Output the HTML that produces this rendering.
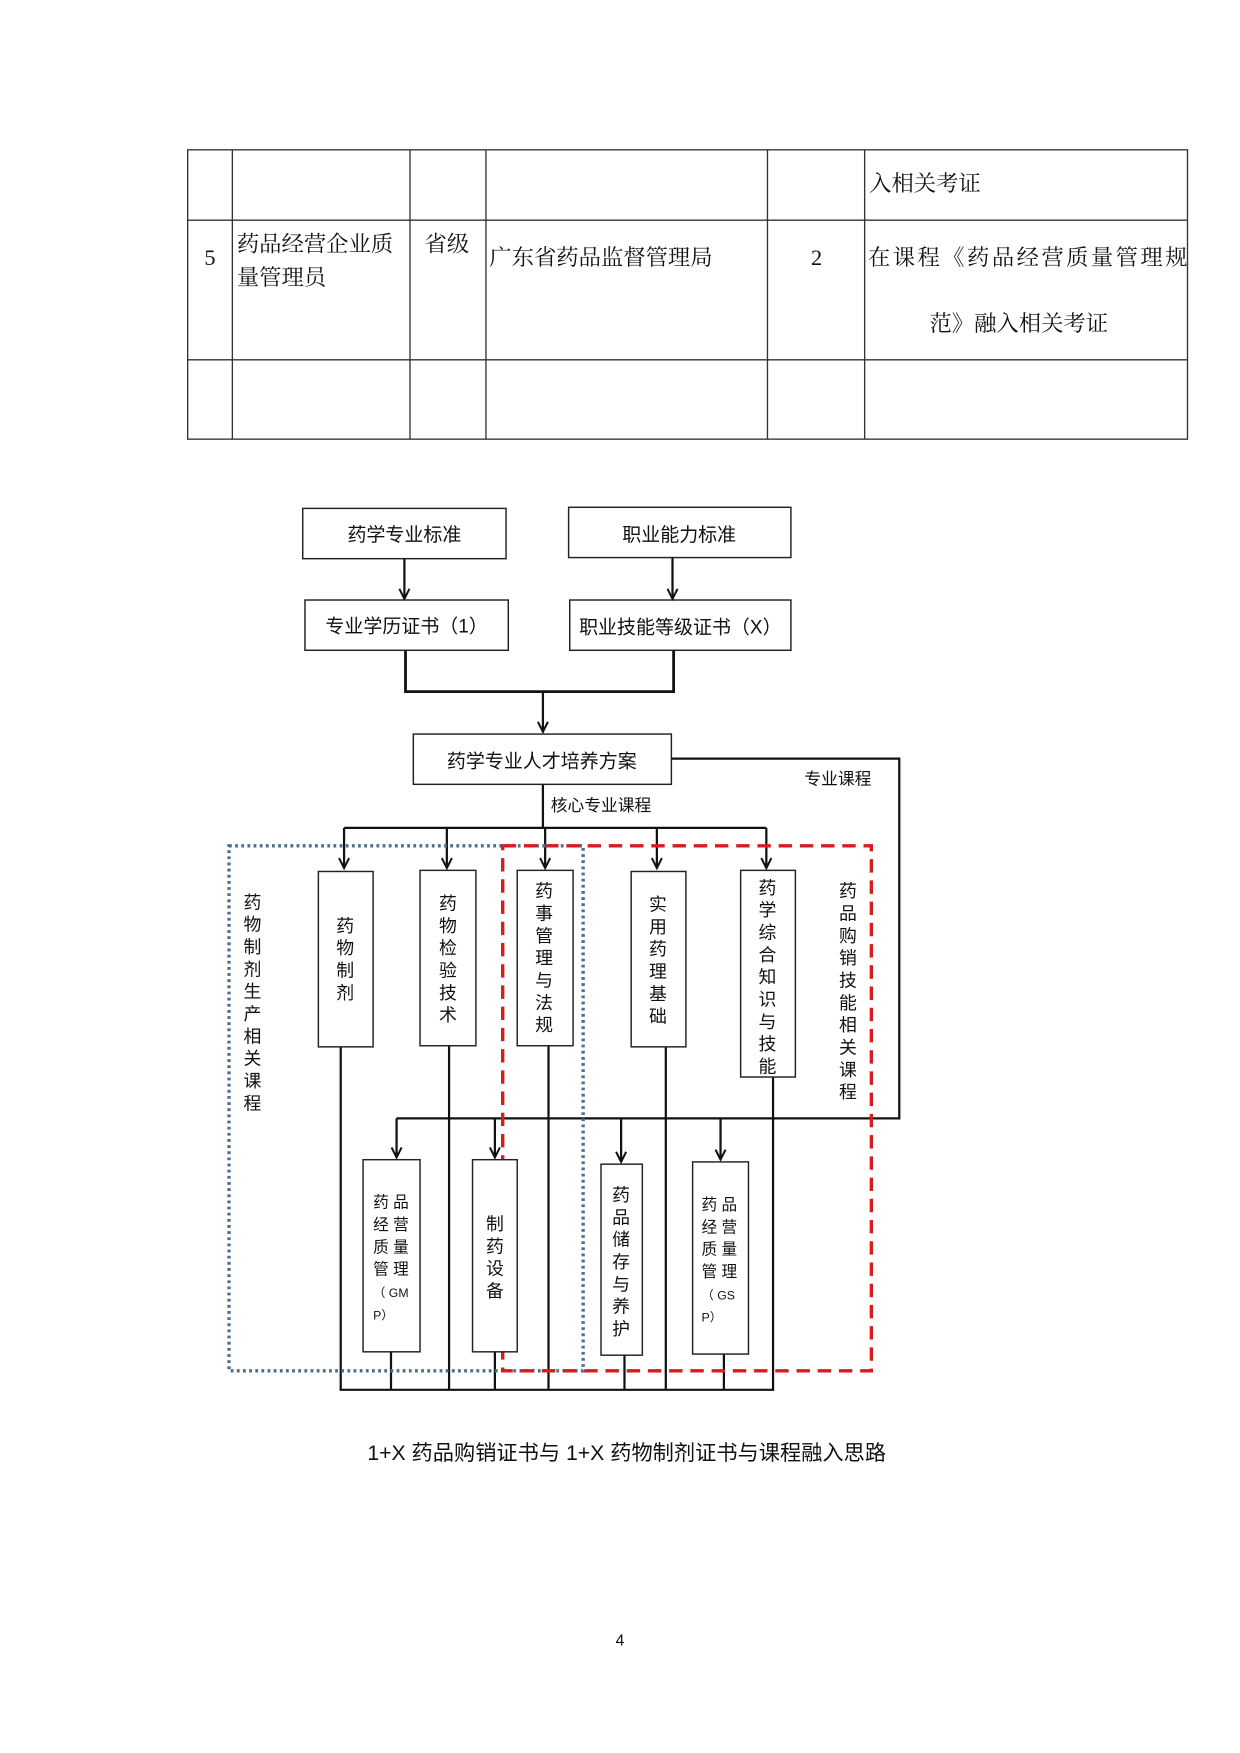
<!DOCTYPE html>
<html><head><meta charset="utf-8"><style>
html,body{margin:0;padding:0;background:#fff}
svg{display:block}
.s{font-family:"Liberation Serif","Noto Serif CJK SC",serif;font-size:20px;fill:#111}
.k{font-family:"Liberation Sans","Noto Sans CJK SC",sans-serif;fill:#111}
</style></head><body>
<svg width="1240" height="1753" viewBox="0 0 1110 1569" xmlns="http://www.w3.org/2000/svg">
<defs><marker id="a" markerWidth="12" markerHeight="12" refX="10" refY="6" orient="auto" markerUnits="userSpaceOnUse" viewBox="0 0 12 12"><path d="M1,1.5 L10,6 L1,10.5" fill="none" stroke="#111" stroke-width="1.8"/></marker></defs>
<!-- table -->
<g stroke="#333" stroke-width="1.2" fill="none">
<rect x="168" y="134" width="895" height="259"/>
<line x1="168" y1="197" x2="1063" y2="197"/><line x1="168" y1="322" x2="1063" y2="322"/>
<line x1="208" y1="134" x2="208" y2="393"/><line x1="367" y1="134" x2="367" y2="393"/>
<line x1="435" y1="134" x2="435" y2="393"/><line x1="687" y1="134" x2="687" y2="393"/>
<line x1="774" y1="134" x2="774" y2="393"/>
</g>
<g class="s">
<text x="778" y="171">入相关考证</text>
<text x="188" y="237" text-anchor="middle">5</text>
<text x="212" y="225">药品经营企业质</text>
<text x="212" y="255">量管理员</text>
<text x="380" y="225">省级</text>
<text x="438" y="237">广东省药品监督管理局</text>
<text x="731" y="237" text-anchor="middle">2</text>
<text x="777" y="237" textLength="286">在课程《药品经营质量管理规</text>
<text x="832" y="296">范》融入相关考证</text>
</g>
<!-- boxes top -->
<g stroke="#222" stroke-width="1.3" fill="none">
<rect x="271" y="455" width="182" height="45"/>
<rect x="509" y="454" width="199" height="45"/>
<rect x="273" y="537" width="182" height="45"/>
<rect x="510" y="537" width="198" height="45"/>
<rect x="370" y="657" width="231" height="45"/>
</g>
<g class="k" font-size="17" text-anchor="middle">
<text x="362" y="484">药学专业标准</text>
<text x="608" y="484">职业能力标准</text>
<text x="364" y="566">专业学历证书（1）</text>
<text x="609" y="567">职业技能等级证书（X）</text>
<text x="485" y="687">药学专业人才培养方案</text>
</g>
<g class="k" font-size="15">
<text x="720" y="702">专业课程</text>
<text x="493" y="726">核心专业课程</text>
</g>
<g stroke="#111" stroke-width="2" fill="none">
<line x1="362" y1="500" x2="362" y2="536" marker-end="url(#a)"/>
<line x1="602" y1="499" x2="602" y2="536" marker-end="url(#a)"/>
<polyline points="363,582 363,619 603,619 603,582" stroke-width="2.5"/>
<line x1="486" y1="619" x2="486" y2="655" marker-end="url(#a)"/>
<polyline points="601,679 805,679 805,1001 355,1001"/>
<line x1="486" y1="702" x2="486" y2="741"/>
<line x1="308" y1="741" x2="686" y2="741"/>
<line x1="308" y1="741" x2="308" y2="777" marker-end="url(#a)"/>
<line x1="400" y1="741" x2="400" y2="777" marker-end="url(#a)"/>
<line x1="488" y1="741" x2="488" y2="777" marker-end="url(#a)"/>
<line x1="588" y1="741" x2="588" y2="777" marker-end="url(#a)"/>
<line x1="686" y1="741" x2="686" y2="777" marker-end="url(#a)"/>
<line x1="355" y1="1001" x2="355" y2="1036" marker-end="url(#a)"/>
<line x1="443" y1="1001" x2="443" y2="1036" marker-end="url(#a)"/>
<line x1="556" y1="1001" x2="556" y2="1040" marker-end="url(#a)"/>
<line x1="645" y1="1001" x2="645" y2="1038" marker-end="url(#a)"/>
<line x1="305" y1="937" x2="305" y2="1244"/>
<line x1="402" y1="936" x2="402" y2="1244"/>
<line x1="491" y1="936" x2="491" y2="1244"/>
<line x1="596" y1="937" x2="596" y2="1244"/>
<line x1="692" y1="964" x2="692" y2="1244"/>
<line x1="350" y1="1210" x2="350" y2="1244"/>
<line x1="443" y1="1210" x2="443" y2="1244"/>
<line x1="559" y1="1213" x2="559" y2="1244"/>
<line x1="648" y1="1212" x2="648" y2="1244"/>
<line x1="304" y1="1244" x2="693" y2="1244"/>
</g>
<!-- group rects -->
<rect x="205" y="757" width="317" height="470" fill="none" stroke="#4a6f8f" stroke-width="3" stroke-dasharray="2.5,3"/>
<rect x="450" y="757" width="330" height="470" fill="none" stroke="#d61c1c" stroke-width="3" stroke-dasharray="12,7"/>
<!-- course boxes -->
<g stroke="#222" stroke-width="1.3" fill="#fff">
<rect x="285" y="780" width="49" height="157"/>
<rect x="376" y="779" width="50" height="157"/>
<rect x="463" y="779" width="50" height="157"/>
<rect x="565" y="780" width="49" height="157"/>
<rect x="663" y="779" width="49" height="185"/>
<rect x="325" y="1038" width="51" height="172"/>
<rect x="423" y="1038" width="40" height="172"/>
<rect x="538" y="1042" width="37" height="171"/>
<rect x="620" y="1040" width="50" height="172"/>
</g>
<g class="k" font-size="16" text-anchor="middle">
<text x="309" y="834">药<tspan x="309" dy="20">物</tspan><tspan x="309" dy="20">制</tspan><tspan x="309" dy="20">剂</tspan></text>
<text x="401" y="814">药<tspan x="401" dy="20">物</tspan><tspan x="401" dy="20">检</tspan><tspan x="401" dy="20">验</tspan><tspan x="401" dy="20">技</tspan><tspan x="401" dy="20">术</tspan></text>
<text x="487" y="803">药<tspan x="487" dy="20">事</tspan><tspan x="487" dy="20">管</tspan><tspan x="487" dy="20">理</tspan><tspan x="487" dy="20">与</tspan><tspan x="487" dy="20">法</tspan><tspan x="487" dy="20">规</tspan></text>
<text x="589" y="815">实<tspan x="589" dy="20">用</tspan><tspan x="589" dy="20">药</tspan><tspan x="589" dy="20">理</tspan><tspan x="589" dy="20">基</tspan><tspan x="589" dy="20">础</tspan></text>
<text x="687" y="800">药<tspan x="687" dy="20">学</tspan><tspan x="687" dy="20">综</tspan><tspan x="687" dy="20">合</tspan><tspan x="687" dy="20">知</tspan><tspan x="687" dy="20">识</tspan><tspan x="687" dy="20">与</tspan><tspan x="687" dy="20">技</tspan><tspan x="687" dy="20">能</tspan></text>
<text x="443" y="1101">制<tspan x="443" dy="20">药</tspan><tspan x="443" dy="20">设</tspan><tspan x="443" dy="20">备</tspan></text>
<text x="556" y="1075">药<tspan x="556" dy="20">品</tspan><tspan x="556" dy="20">储</tspan><tspan x="556" dy="20">存</tspan><tspan x="556" dy="20">与</tspan><tspan x="556" dy="20">养</tspan><tspan x="556" dy="20">护</tspan></text>
<text x="226" y="813">药<tspan x="226" dy="20">物</tspan><tspan x="226" dy="20">制</tspan><tspan x="226" dy="20">剂</tspan><tspan x="226" dy="20">生</tspan><tspan x="226" dy="20">产</tspan><tspan x="226" dy="20">相</tspan><tspan x="226" dy="20">关</tspan><tspan x="226" dy="20">课</tspan><tspan x="226" dy="20">程</tspan></text>
<text x="759" y="803">药<tspan x="759" dy="20">品</tspan><tspan x="759" dy="20">购</tspan><tspan x="759" dy="20">销</tspan><tspan x="759" dy="20">技</tspan><tspan x="759" dy="20">能</tspan><tspan x="759" dy="20">相</tspan><tspan x="759" dy="20">关</tspan><tspan x="759" dy="20">课</tspan><tspan x="759" dy="20">程</tspan></text>
</g>
<g class="k" font-size="14">
<text x="334" y="1081">药 品<tspan x="334" dy="20">经 营</tspan><tspan x="334" dy="20">质 量</tspan><tspan x="334" dy="20">管 理</tspan><tspan x="334" dy="20" font-size="11">（ GM</tspan><tspan x="334" dy="20" font-size="11">P）</tspan></text>
<text x="628" y="1083">药 品<tspan x="628" dy="20">经 营</tspan><tspan x="628" dy="20">质 量</tspan><tspan x="628" dy="20">管 理</tspan><tspan x="628" dy="20" font-size="11">（ GS</tspan><tspan x="628" dy="20" font-size="11">P）</tspan></text>
</g>
<text class="k" x="561" y="1307" font-size="19" text-anchor="middle">1+X 药品购销证书与 1+X 药物制剂证书与课程融入思路</text>
<text class="k" x="555" y="1473" font-size="14" text-anchor="middle">4</text>
</svg>
</body></html>
